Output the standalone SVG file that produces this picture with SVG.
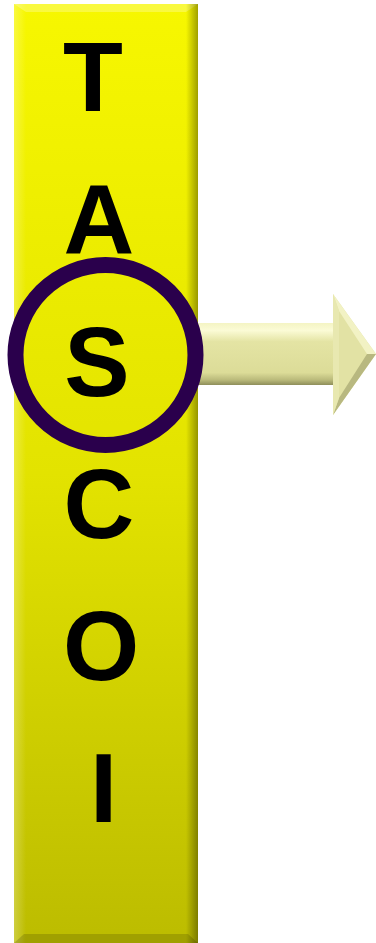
<svg xmlns="http://www.w3.org/2000/svg" width="376" height="943" viewBox="0 0 376 943">
<defs>
<linearGradient id="barG" x1="0" y1="0" x2="0" y2="1">
<stop offset="0" stop-color="#f7f700"/>
<stop offset="0.5" stop-color="#e3e300"/>
<stop offset="1" stop-color="#bcbc00"/>
</linearGradient>
<linearGradient id="rightG" x1="0" y1="0" x2="1" y2="0">
<stop offset="0" stop-color="#000" stop-opacity="0"/>
<stop offset="1" stop-color="#000" stop-opacity="0.35"/>
</linearGradient>
<linearGradient id="leftG" x1="0" y1="0" x2="1" y2="0">
<stop offset="0" stop-color="#fff" stop-opacity="0.25"/>
<stop offset="1" stop-color="#fff" stop-opacity="0"/>
</linearGradient>
<linearGradient id="shaftG" x1="0" y1="0" x2="0" y2="1">
<stop offset="0" stop-color="#f4f4c4"/>
<stop offset="0.12" stop-color="#fbfbd6"/>
<stop offset="0.3" stop-color="#e4e4a4"/>
<stop offset="0.8" stop-color="#dcdc98"/>
<stop offset="0.92" stop-color="#b9b97a"/>
<stop offset="1" stop-color="#8e8e5a"/>
</linearGradient>
<style>
.ltr{font-family:"Liberation Sans",Arial,sans-serif;font-weight:bold;font-size:98px;fill:#000;text-anchor:middle}
</style>
</defs>
<g id="bar">
<rect x="14" y="4" width="184" height="939" fill="url(#barG)"/>
<polygon points="14,4 198,4 186,12 26,12" fill="#fff" opacity="0.25"/>
<rect x="14" y="4" width="12" height="939" fill="url(#leftG)"/>
<rect x="186" y="4" width="12" height="939" fill="url(#rightG)"/>
<polygon points="14,943 198,943 188,934 24,934" fill="#000" opacity="0.15"/>
</g>
<g id="connectors">
<g id="arrow">
<rect x="198" y="323" width="136" height="62" fill="url(#shaftG)"/>
<polygon points="333,294 376,354 333,415" fill="#e2e2a4"/>
<polygon points="333,294 376,354 367,354 339,311" fill="#f2f2c4"/>
<polygon points="333,415 376,354 367,354 339,398" fill="#b8b880"/>
<polygon points="333,294 339,311 339,398 333,415" fill="#e8e8b0"/>
</g>
</g>
<g id="letter-T"><text class="ltr" x="93" y="111">T</text></g>
<g id="letter-A"><text class="ltr" x="99" y="253">A</text></g>
<g id="letter-S"><text class="ltr" x="97" y="396">S</text></g>
<g id="letter-C"><text class="ltr" x="99" y="538">C</text></g>
<g id="letter-O"><text class="ltr" x="101" y="680">O</text></g>
<g id="letter-I"><text class="ltr" x="103.5" y="822">I</text></g>
<g id="highlight-circle">
<circle cx="105.5" cy="355" r="90" fill="none" stroke="#2a004c" stroke-width="16"/>
</g>
</svg>
